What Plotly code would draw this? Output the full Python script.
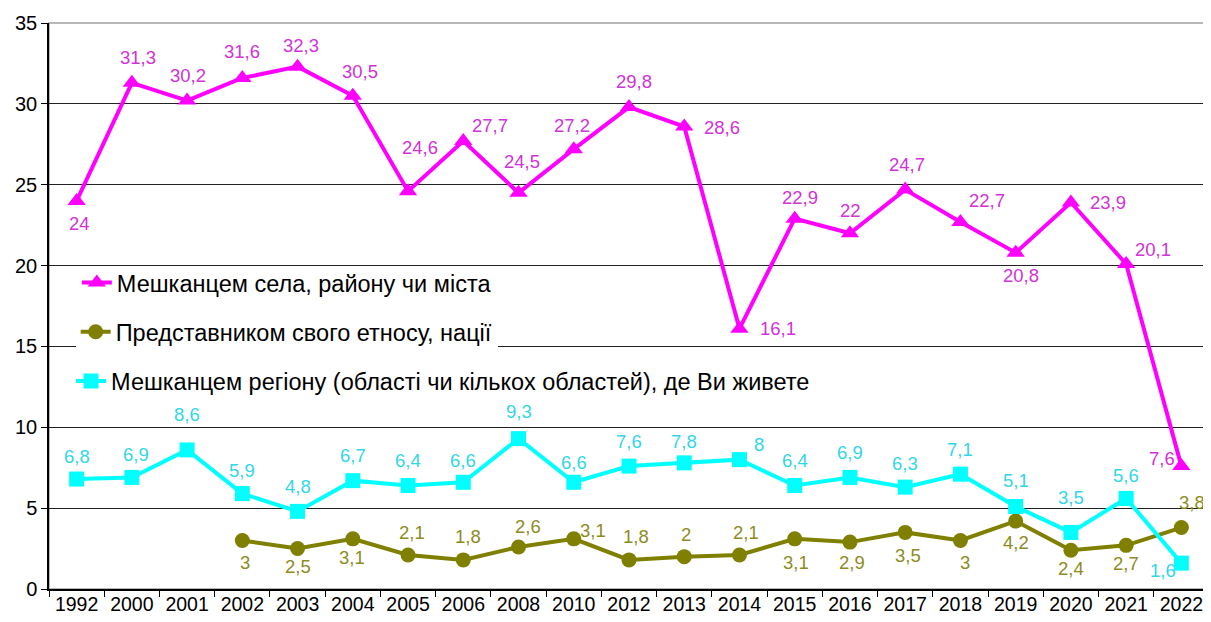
import plotly.graph_objects as go

years = ["1992", "2000", "2001", "2002", "2003", "2004", "2005", "2006", "2008", "2010",
         "2012", "2013", "2014", "2015", "2016", "2017", "2018", "2019", "2020", "2021", "2022"]

village = [24, 31.3, 30.2, 31.6, 32.3, 30.5, 24.6, 27.7, 24.5, 27.2,
           29.8, 28.6, 16.1, 22.9, 22, 24.7, 22.7, 20.8, 23.9, 20.1, 7.6]
ethnos = [None, None, None, 3, 2.5, 3.1, 2.1, 1.8, 2.6, 3.1,
          1.8, 2, 2.1, 3.1, 2.9, 3.5, 3, 4.2, 2.4, 2.7, 3.8]
region = [6.8, 6.9, 8.6, 5.9, 4.8, 6.7, 6.4, 6.6, 9.3, 6.6,
          7.6, 7.8, 8, 6.4, 6.9, 6.3, 7.1, 5.1, 3.5, 5.6, 1.6]

names = ["Мешканцем села, району чи міста",
         "Представником свого етносу, нації",
         "Мешканцем регіону (області чи кількох областей), де Ви живете"]

# label offsets in pixels (dx right, dy down) from each point
off_village = [(3, 23), (6, -25), (1, -25), (0, -26), (3, -21), (7, -24), (12, -44), (27, -16),
               (3, -31), (-2, -24), (5, -26), (38, 1), (39, 0), (5, -21), (1, -23), (2, -25),
               (27, -21), (5, 23), (37, 0), (27, -14), (-19, -8)]
off_ethnos = [None, None, None, (3, 22), (0, 18), (-1, 19), (4, -23), (5, -23), (9, -20),
              (19, -8), (7, -23), (2, -22), (7, -23), (1, 24), (2, 20), (3, 23), (5, 22),
              (0, 21), (0, 18), (0, 18), (11, -25)]
off_region = [(0, -23), (4, -23), (0, -35), (0, -23), (0, -25), (0, -25), (0, -25), (0, -22),
              (0, -27), (0, -20), (0, -25), (0, -21), (20, -15), (0, -25), (0, -25), (0, -24),
              (0, -25), (0, -26), (0, -35), (0, -23), (-18, 7)]


def fmt(v):
    return ("%g" % v).replace(".", ",")


FONT = "Liberation Sans, Arial"
fig = go.Figure()

series = [
    (ethnos, names[1], "#7F7F00", "circle", 15, "#8C8C1E", off_ethnos, "legend2"),
    (region, names[2], "#00FFFF", "square", 15, "#33D6E6", off_region, "legend3"),
    (village, names[0], "#FF00FF", "triangle-up", 16, "#D133D6", off_village, "legend"),
]

annotations = []
for vals, name, color, sym, msize, lcolor, offs, leg in series:
    fig.add_trace(go.Scatter(
        x=years, y=vals, name=name, mode="lines+markers",
        line=dict(color=color, width=4),
        marker=dict(symbol=sym, size=msize, color=color),
        legend=leg, cliponaxis=False))
    for i, (v, off) in enumerate(zip(vals, offs)):
        if v is None:
            continue
        # category axis: annotation x given as the category index
        annotations.append(dict(
            x=i, y=v, xref="x", yref="y", text=fmt(v), showarrow=False,
            xanchor="center", yanchor="middle", xshift=off[0], yshift=-off[1],
            font=dict(family=FONT, size=18.5, color=lcolor)))

legend_common = dict(borderwidth=0, xanchor="left", yanchor="middle",
                     font=dict(family=FONT, size=23.5, color="black"),
                     itemwidth=30, tracegroupgap=0)

# The page body has an 8px margin, so the figure is sized to fit the window.
fig.update_layout(
    width=1203, height=614,
    margin=dict(l=41, r=2, t=15, b=33),
    paper_bgcolor="white", plot_bgcolor="white",
    font=dict(family=FONT, size=19, color="black"),
    showlegend=True,
    legend=dict(x=0.024, y=0.541, bgcolor="rgba(255,255,255,0)", **legend_common),
    legend2=dict(x=0.023, y=0.454, bgcolor="white", **legend_common),
    legend3=dict(x=0.019, y=0.367, bgcolor="rgba(255,255,255,0)", **legend_common),
    xaxis=dict(type="category", showgrid=False, showline=True, linecolor="black", linewidth=1.5,
               ticks="outside", tickson="boundaries", ticklen=6, tickcolor="black",
               tickfont=dict(size=19.5, color="black"), range=[-0.5, 20.5],
               automargin=False, ticklabelstandoff=-3),
    yaxis=dict(range=[0, 35], dtick=5, showgrid=True, gridcolor="#222222", gridwidth=1,
               showline=True, linecolor="black", linewidth=1.5, ticks="outside", ticklen=6,
               tickcolor="black", tickfont=dict(size=20, color="black"), zeroline=False,
               automargin=False),
    shapes=[dict(type="rect", xref="paper", yref="paper", x0=0, x1=1, y0=0, y1=1,
                 line=dict(color="#A0A0A0", width=1.5), layer="below")],
    annotations=annotations,
)

fig.write_html("out.html")
